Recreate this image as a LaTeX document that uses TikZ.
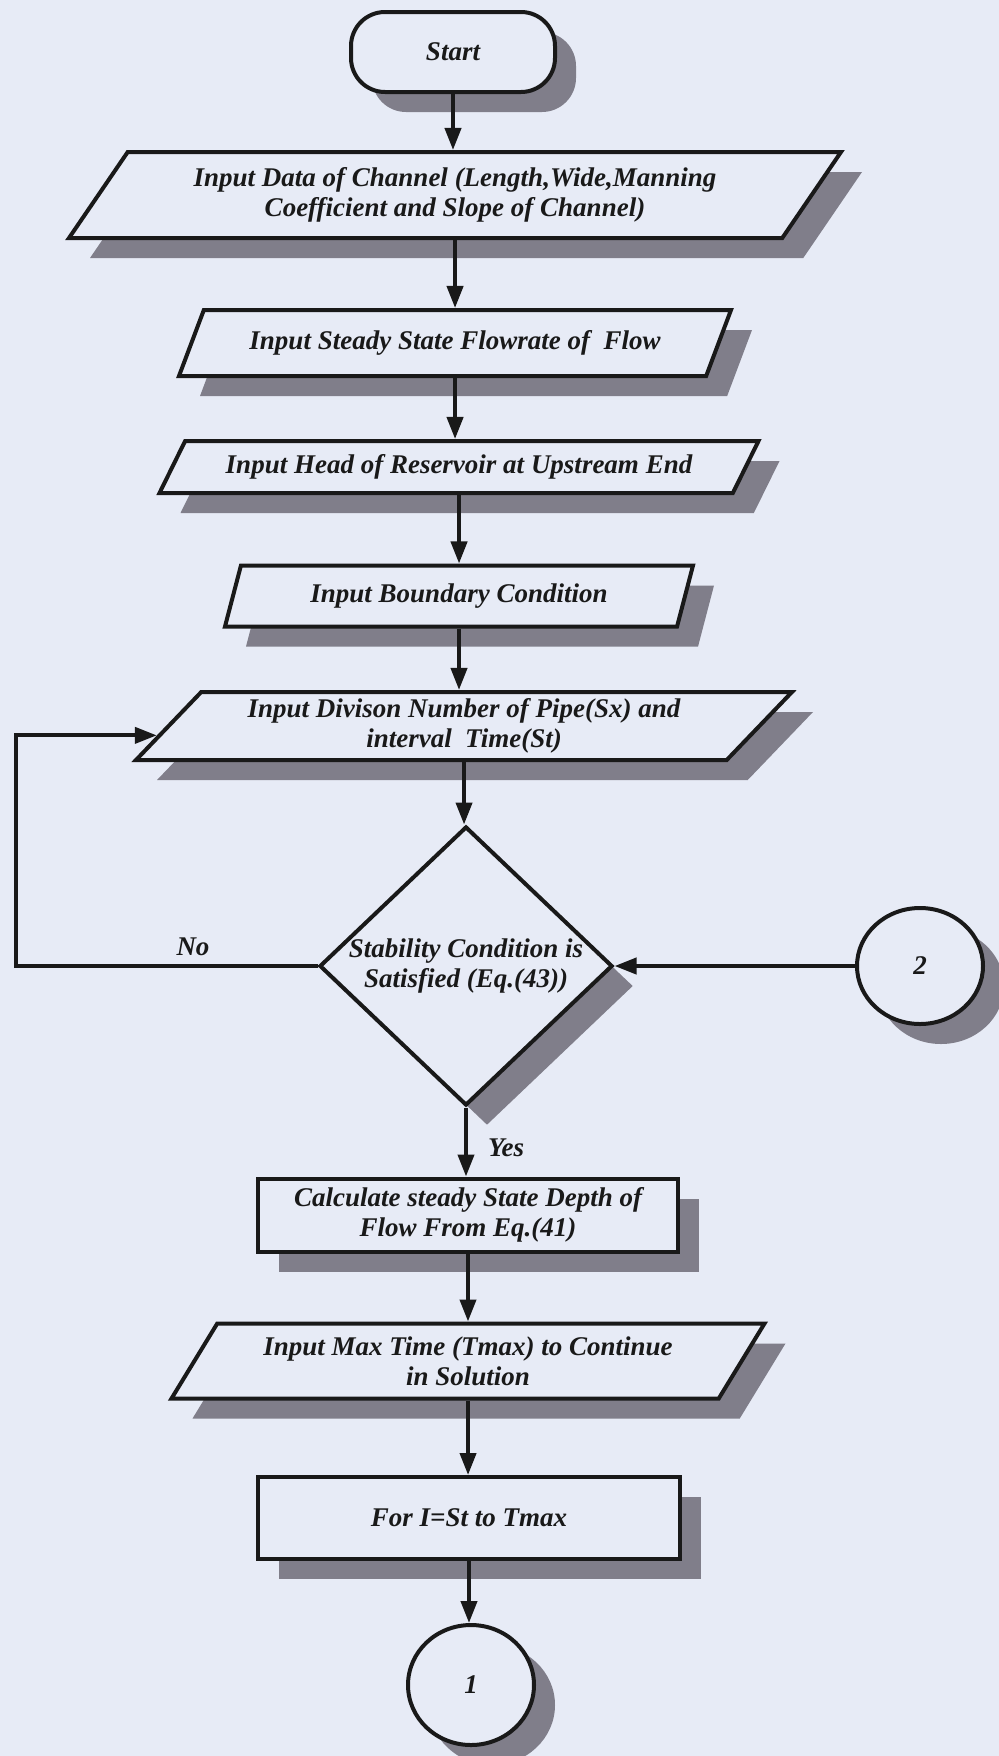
\documentclass[tikz,border=0pt]{standalone}
\usepackage{fontspec}
\setmainfont{Liberation Serif}
\usepackage{tikz}
\usetikzlibrary{calc}
\usetikzlibrary{shapes.geometric}
\usetikzlibrary{shadows}
\usetikzlibrary{arrows.meta}
\definecolor{paper}{RGB}{231,235,246}
\definecolor{shade}{RGB}{128,126,138}
\tikzset{
	every node/.style={font=\fontsize{13.5}{15}\selectfont\bfseries\itshape, text=black!90},
	box/.style={draw=black!90, line width=2pt, fill=paper, align=center, inner sep=0pt,
		drop shadow={shadow xshift=10.5pt, shadow yshift=-10pt, fill=shade, opacity=1}},
	term/.style={box, rectangle, rounded corners=17pt, minimum width=102pt, minimum height=40pt},
	io/.style 2 args={box, trapezium, trapezium left angle=#1, trapezium right angle=#2, trapezium stretches body},
	proc/.style={box, rectangle},
	decide/.style={box, diamond, aspect=1.05, minimum width=146.5pt, minimum height=139.5pt},
	conn/.style={box, ellipse},
	flow/.style={draw=black!90, line width=2pt, -{Triangle[length=11pt,width=8pt]}},
}
\begin{document}
\begin{tikzpicture}[x=0.5pt,y=-0.5pt]
	\fill[paper] (0,0) rectangle (999,1756);
	\useasboundingbox (0,0) rectangle (999,1756);
	\node[term] (start) at (453,52) {Start};
	\node[io={43}{137}, minimum width=386pt, minimum height=43pt] (data) at (455,195) {Input Data of Channel (Length,Wide,Manning\\ Coefficient and Slope of Channel)};
	\node[io={45}{135}, minimum width=276pt, minimum height=33pt] (steady) at (455,343) {Input Steady State Flowrate of~ Flow};
	\node[io={44}{136}, minimum width=299.5pt, minimum height=26pt] (head) at (459,467) {Input Head of Reservoir at Upstream End};
	\node[io={57}{123}, minimum width=234pt, minimum height=30.5pt] (bound) at (459,596) {Input Boundary Condition};
	\node[io={40}{140}, minimum width=328pt, minimum height=34pt] (div) at (464,726) {Input Divison Number of Pipe(Sx) and\\ interval~ Time(St)};
	\node[decide] (dec) at (466,966) {Stability Condition is\\ Satisfied (Eq.(43))};
	\node[conn, minimum width=63pt, minimum height=58pt] (two) at (920,966) {2};
	\node[proc, minimum width=210pt, minimum height=36.5pt] (calc) at (468,1215) {Calculate steady State Depth of\\ Flow From Eq.(41)};
	\node[io={47}{133}, minimum width=296.5pt, minimum height=37.5pt] (tmax) at (468,1361) {Input Max Time (Tmax) to Continue\\ in Solution};
	\node[proc, minimum width=211pt, minimum height=41pt] (loop) at (469,1518) {For I=St to Tmax};
	\node[conn, minimum width=63pt, minimum height=60pt] (one) at (471,1685) {1};
	\coordinate (back) at (16,0);
	\coordinate (entry) at ($(div.bottom left corner)!0.37!(div.top left corner)$);
	\draw[flow] (start.south) -- (start.south |- data.north);
	\draw[flow] (data.south) -- (data.south |- steady.north);
	\draw[flow] (steady.south) -- (steady.south |- head.north);
	\draw[flow] (head.south) -- (head.south |- bound.north);
	\draw[flow] (bound.south) -- (bound.south |- div.north);
	\draw[flow] (div.south) -- (div.south |- dec.north);
	\draw[flow] (dec.south) -- (dec.south |- calc.north);
	\draw[flow] (calc.south) -- (calc.south |- tmax.north);
	\draw[flow] (tmax.south) -- (tmax.south |- loop.north);
	\draw[flow] (loop.south) -- (loop.south |- one.north);
	\draw[flow] (dec.west) -- (dec.west -| back) |- (entry);
	\draw[flow] (two.west) -- (dec.east);
	\node (no) at (193,947) {No};
	\node (yes) at (506,1148) {Yes};
\end{tikzpicture}
\end{document}
